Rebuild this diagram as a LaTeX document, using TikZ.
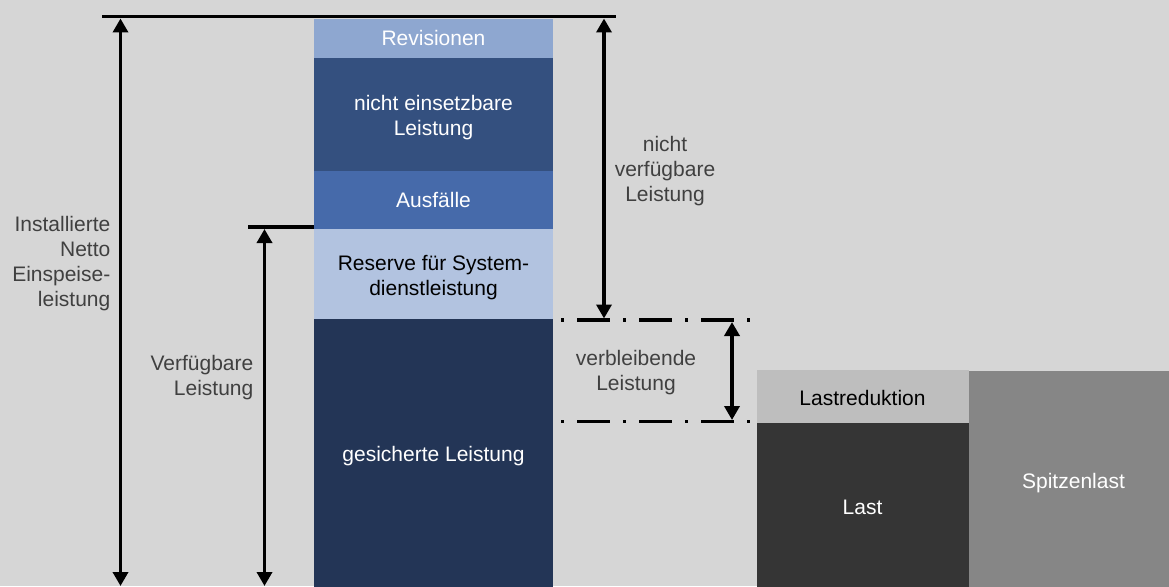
\documentclass[tikz,border=0pt]{standalone}
\usepackage{fontspec}
\setmainfont{Liberation Sans}
\usetikzlibrary{arrows.meta}
\definecolor{bgc}{RGB}{214,214,214}
\definecolor{revc}{RGB}{142,167,208}
\definecolor{neinc}{RGB}{52,80,127}
\definecolor{ausc}{RGB}{70,106,170}
\definecolor{resc}{RGB}{178,195,224}
\definecolor{gesc}{RGB}{35,53,86}
\definecolor{lredc}{RGB}{190,190,190}
\definecolor{lastc}{RGB}{53,53,53}
\definecolor{spitzc}{RGB}{134,134,134}
\definecolor{lblc}{RGB}{64,64,64}
\begin{document}
\begin{tikzpicture}[x=1pt,y=-1pt,
  box/.style={draw=none, inner sep=0pt, outer sep=0pt, anchor=north west},
  tb/.style={font=\fontsize{21}{25}\selectfont, inner sep=0pt, anchor=base, align=center},
  lbl/.style={tb, text=lblc},
  rulel/.style={line width=3.6pt},
  dim/.style={line width=3.5pt, {Triangle[width=15pt,length=14pt]}-{Triangle[width=15pt,length=14pt]}},
  dashdot/.style={line width=3.6pt, dash pattern=on 3pt off 13pt on 33pt off 13pt}]
\useasboundingbox[fill=bgc] (0,0) rectangle (1169,586);

% main column
\node[box, fill=revc, minimum width=239pt, minimum height=39pt] (rev) at (314,19) {};
\node[box, fill=neinc, minimum width=239pt, minimum height=113pt] (nein) at (314,58) {};
\node[box, fill=ausc, minimum width=239pt, minimum height=58pt] (aus) at (314,171) {};
\node[box, fill=resc, minimum width=239pt, minimum height=90pt] (res) at (314,229) {};
\node[box, fill=gesc, minimum width=239pt, minimum height=277pt] (ges) at (314,319) {};
\node[tb, text=white] (trev) at (433.5,46) {Revisionen};
\node[tb, text=white] (tnein) at (433.5,135) {nicht einsetzbare\\Leistung};
\node[tb, text=white] (taus) at (433.5,207.5) {Ausfälle};
\node[tb, text=black] (tres) at (433.5,295.5) {Reserve für System-\\dienstleistung};
\node[tb, text=white] (tges) at (433.5,461.5) {gesicherte Leistung};

% right side
\node[box, fill=lredc, minimum width=212pt, minimum height=53pt] (lred) at (757,370) {};
\node[box, fill=lastc, minimum width=212pt, minimum height=170pt] (last) at (757,423) {};
\node[box, fill=spitzc, minimum width=212pt, minimum height=220pt] (spitz) at (969,371) {};
\node[tb, text=black] (tlred) at (862.5,405) {Lastreduktion};
\node[tb, text=white] (tlast) at (862.5,514.3) {Last};
\node[tb, text=white] (tspitz) at (1073.5,488.3) {Spitzenlast};

% reference lines
\coordinate (topL) at (102,16.5);
\coordinate (topR) at (616,16.5);
\draw[rulel] (topL) -- (topR);
\coordinate (midL) at (248,227);
\coordinate (midR) at (314,227);
\draw[rulel] (midL) -- (midR);
\coordinate (dd1a) at (561,320);
\coordinate (dd1b) at (751,320);
\coordinate (dd2a) at (561,421.5);
\coordinate (dd2b) at (751,421.5);
\draw[dashdot] (dd1a) -- (dd1b);
\draw[dashdot] (dd2a) -- (dd2b);

% dimension arrows
\coordinate (a1t) at (120.5,18.5);
\coordinate (a1b) at (120.5,586);
\draw[dim] (a1t) -- (a1b);
\coordinate (a2t) at (264.5,229);
\coordinate (a2b) at (264.5,586);
\draw[dim] (a2t) -- (a2b);
\coordinate (a3t) at (604,18.5);
\coordinate (a3b) at (604,318.5);
\draw[dim] (a3t) -- (a3b);
\coordinate (a4t) at (732,322);
\coordinate (a4b) at (732,420);
\draw[dim] (a4t) -- (a4b);

% labels
\node[lbl, align=right, anchor=base east] (inst) at (110.5,306.5) {Installierte\\Netto\\Einspeise-\\leistung};
\node[lbl, align=right, anchor=base east] (verf) at (253.5,395) {Verfügbare\\Leistung};
\node[lbl] (nverf) at (665,201.5) {nicht\\verfügbare\\Leistung};
\node[lbl] (verb) at (636,390.7) {verbleibende\\Leistung};
\end{tikzpicture}
\end{document}
